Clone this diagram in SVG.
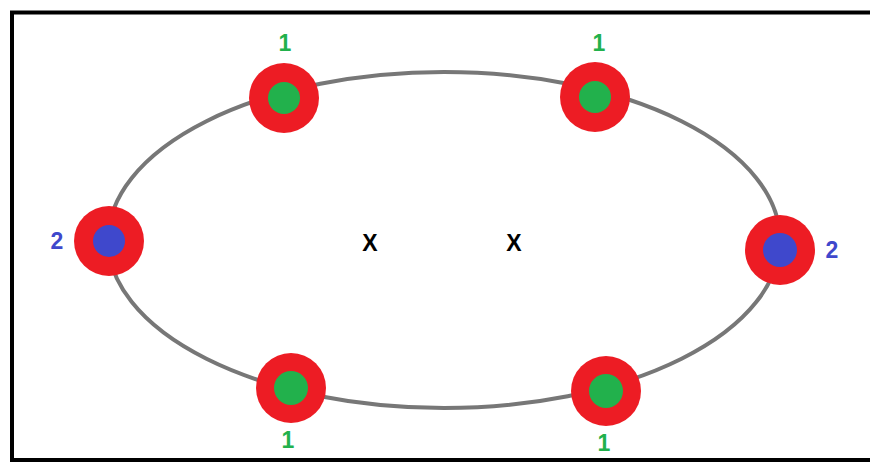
<svg xmlns="http://www.w3.org/2000/svg" width="870" height="464" viewBox="0 0 870 464">
<style>
.outer{fill:#ed1c24}
.g{fill:#22b14c}
.b{fill:#3f48cc}
.t{font-family:"Liberation Sans",Arial,sans-serif;font-weight:bold;font-size:23px;text-anchor:middle}
.tg{fill:#22b14c}
.tb{fill:#3f48cc}
.tx{fill:#000}
</style>
<rect x="0" y="0" width="870" height="464" fill="#fff"/>
<rect x="12" y="12.5" width="870" height="447.5" fill="none" stroke="#000" stroke-width="4"/>
<g id="connectors">
<ellipse cx="444" cy="240" rx="336" ry="168" fill="none" stroke="#777" stroke-width="4"/>
</g>
<g id="n1"><circle class="outer" cx="284" cy="98" r="35"/><circle class="g" cx="284" cy="98" r="16"/><text class="t tg" x="285" y="51">1</text></g>
<g id="n2"><circle class="outer" cx="595" cy="97" r="35"/><circle class="g" cx="595" cy="97" r="16"/><text class="t tg" x="599" y="51">1</text></g>
<g id="n3"><circle class="outer" cx="109" cy="241" r="35"/><circle class="b" cx="109" cy="241" r="16"/><text class="t tb" x="57" y="249">2</text></g>
<g id="n4"><circle class="outer" cx="780" cy="250" r="35"/><circle class="b" cx="780" cy="250" r="17"/><text class="t tb" x="832" y="258">2</text></g>
<g id="n5"><circle class="outer" cx="291" cy="388" r="35"/><circle class="g" cx="291" cy="388" r="17"/><text class="t tg" x="288" y="448">1</text></g>
<g id="n6"><circle class="outer" cx="606" cy="391" r="35"/><circle class="g" cx="606" cy="391" r="17"/><text class="t tg" x="604" y="451">1</text></g>
<text class="t tx" x="370" y="251">X</text>
<text class="t tx" x="514" y="251">X</text>
</svg>
